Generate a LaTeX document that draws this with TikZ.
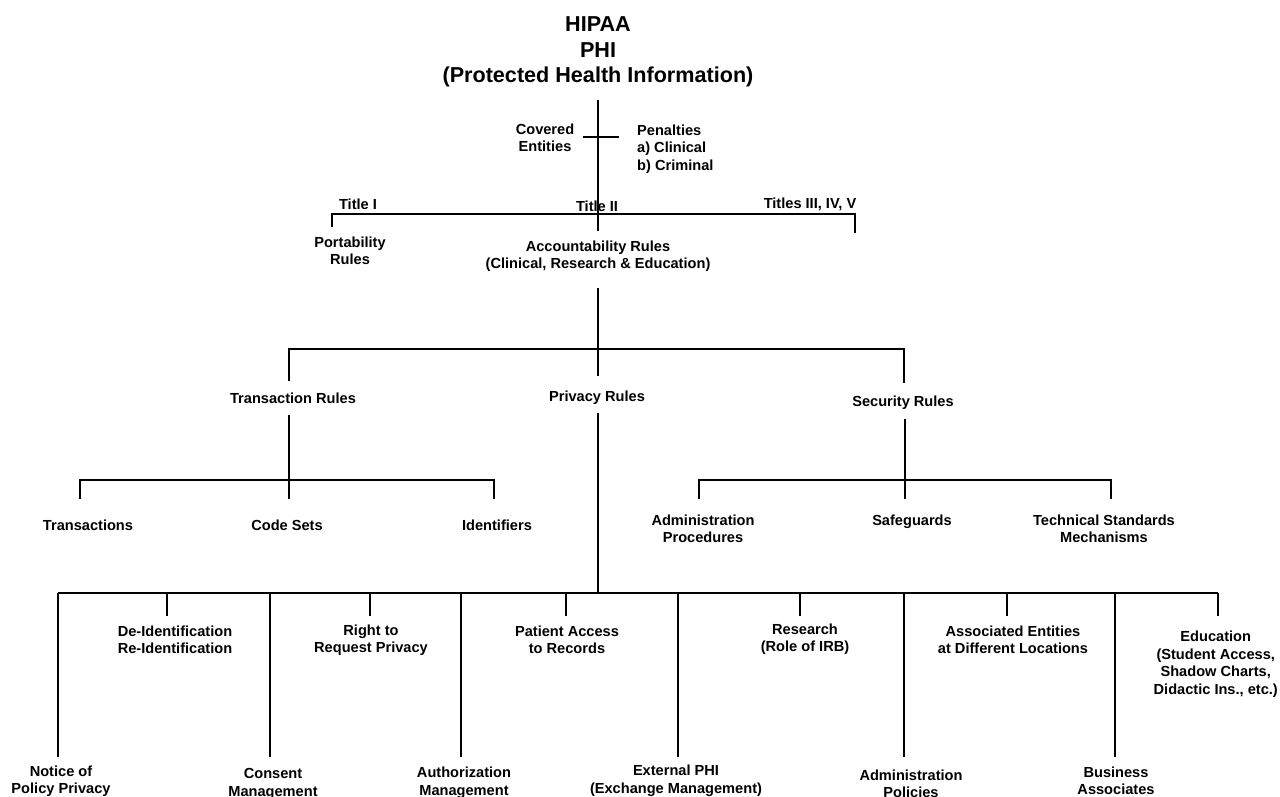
\documentclass[tikz,border=0pt]{standalone}
\usepackage{fontspec}
\setmainfont{Liberation Sans}
\begin{document}
\begin{tikzpicture}[x=1pt,y=-1pt,
  lbl/.style={font=\bfseries\fontsize{14.6}{17.5}\selectfont, align=center, inner sep=0pt},
  ttl/.style={font=\bfseries\fontsize{21.6}{26}\selectfont, align=center, inner sep=0pt},
  ln/.style={line width=1.3pt, draw=black}]
\useasboundingbox (0,0) rectangle (1280,797);
\fill[white] (0,0) rectangle (1280,797);

% ---------- title ----------
\node[ttl] (hipaa) at (598,24) {HIPAA};
\node[ttl] (phi) at (598,50) {PHI};
\node[ttl] (phifull) at (598,77) {(Protected Health Information)};

% ---------- top level ----------
\node[lbl] (covered) at (545,138) {Covered\\Entities};
\node[lbl, align=left, anchor=west] (pen) at (637,149) {Penalties\\a) Clinical\\b) Criminal};
\node[lbl] (t1) at (358,204) {Title I};
\node[lbl] (t2) at (597,206) {Title II};
\node[lbl] (t3) at (810,204) {Titles III, IV, V};
\node[lbl] (port) at (350,251) {Portability\\Rules};
\node[lbl] (acc) at (598,256) {Accountability Rules\\(Clinical, Research \& Education)};

\coordinate (v0a) at (598,100);
\coordinate (v0b) at (598,231);
\coordinate (cxa) at (583,137);
\coordinate (cxb) at (619,137);
\coordinate (tba) at (332,214);
\coordinate (tbb) at (855,214);
\coordinate (tsa) at (332,227);
\coordinate (tsb) at (855,233);
\draw[ln] (v0a) -- (v0b);
\draw[ln] (cxa) -- (cxb);
\draw[ln] (tsa) -- (tba) -- (tbb) -- (tsb);

% ---------- second level ----------
\node[lbl] (trans) at (293,398) {Transaction Rules};
\node[lbl] (priv) at (597,398) {Privacy Rules};
\node[lbl] (sec) at (903,403) {Security Rules};
\coordinate (av) at (598,288);
\coordinate (ab) at (598,349);
\coordinate (b2l) at (289,349);
\coordinate (b2r) at (904,349);
\coordinate (s2l) at (289,381);
\coordinate (s2m) at (598,376);
\coordinate (s2r) at (904,383);
\draw[ln] (av) -- (ab);
\draw[ln] (s2l) -- (b2l) -- (b2r) -- (s2r);
\draw[ln] (ab) -- (s2m);

% ---------- transaction ----------
\node[lbl] (tx) at (88,525) {Transactions};
\node[lbl] (cs) at (287,525) {Code Sets};
\node[lbl] (idf) at (497,525) {Identifiers};
\coordinate (trv) at (289,415);
\coordinate (trb) at (289,480);
\coordinate (b3l) at (80,480);
\coordinate (b3r) at (494,480);
\coordinate (s3l) at (80,499);
\coordinate (s3m) at (289,499);
\coordinate (s3r) at (494,499);
\draw[ln] (trv) -- (trb) -- (s3m);
\draw[ln] (s3l) -- (b3l) -- (b3r) -- (s3r);

% ---------- security ----------
\node[lbl] (adm) at (703,529) {Administration\\Procedures};
\node[lbl] (safe) at (912,522) {Safeguards};
\node[lbl] (tech) at (1104,529) {Technical Standards\\Mechanisms};
\coordinate (sev) at (905,419);
\coordinate (seb) at (905,480);
\coordinate (b4l) at (699,480);
\coordinate (b4r) at (1111,480);
\coordinate (s4l) at (699,499);
\coordinate (s4m) at (905,499);
\coordinate (s4r) at (1111,499);
\draw[ln] (sev) -- (seb) -- (s4m);
\draw[ln] (s4l) -- (b4l) -- (b4r) -- (s4r);

% ---------- privacy ----------
\coordinate (pv) at (598,413);
\coordinate (pb) at (598,593);
\coordinate (b5l) at (58,593);
\coordinate (b5r) at (1218,593);
\draw[ln] (pv) -- (pb);
\draw[ln] (b5l) -- (b5r);

\node[lbl] (deid) at (175,640) {De-Identification\\Re-Identification};
\node[lbl] (right) at (371,640) {Right to\\Request Privacy};
\node[lbl] (pat) at (567,640) {Patient Access\\to Records};
\node[lbl] (res) at (805,639) {Research\\(Role of IRB)};
\node[lbl] (assoc) at (1013,640) {Associated Entities\\at Different Locations};
\node[lbl, anchor=east] (edu) at (1278,664) {Education\\(Student Access,\\Shadow Charts,\\Didactic Ins., etc.)};

\node[lbl] (notice) at (61,781) {Notice of\\Policy Privacy};
\node[lbl] (consent) at (273,784) {Consent\\Management};
\node[lbl] (auth) at (464,783) {Authorization\\Management};
\node[lbl] (ext) at (676,781) {External PHI\\(Exchange Management)};
\node[lbl] (admp) at (911,784) {Administration\\Policies};
\node[lbl] (bus) at (1116,781) {Business\\Associates};

\foreach \x in {167,370,566,800,1007,1218} {
  \draw[ln] (\x,593) -- (\x,616);
}
\foreach \x in {58,270,461,678,904,1115} {
  \draw[ln] (\x,593) -- (\x,757);
}
\end{tikzpicture}
\end{document}
